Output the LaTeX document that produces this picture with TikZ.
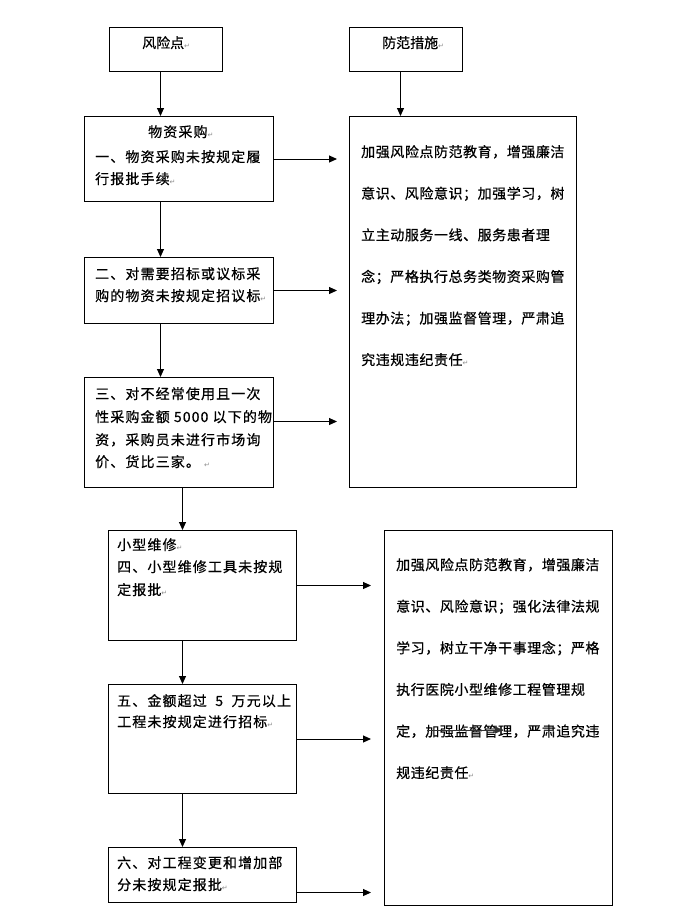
\documentclass[tikz,border=0pt]{standalone}
\usepackage{fontspec}
\newfontfamily\cjkL[LetterSpace=8,FakeBold=0.6]{Noto Sans CJK SC}
\newfontfamily\cjkR[LetterSpace=4,FakeBold=0.6]{Noto Sans CJK SC}
\newfontfamily\cjkH[FakeBold=0.6]{Noto Sans CJK SC}
\newfontfamily\symfont{DejaVu Sans}
\usetikzlibrary{arrows.meta}
\newcommand{\pmk}{{\symfont\fontsize{7}{7}\selectfont\color{black!45}↵}}
\tikzset{
  box/.style={draw, line width=1pt, inner sep=0pt, anchor=north west},
  ltxt/.style={anchor=base west, inner sep=0pt, font=\cjkL\fontsize{14}{16}\selectfont},
  rtxt/.style={anchor=base west, inner sep=0pt, font=\cjkR\fontsize{14}{16}\selectfont},
  htxt/.style={anchor=base west, inner sep=0pt, font=\cjkH\fontsize{14}{16}\selectfont},
  arr/.style={-{Triangle[length=8pt,width=7pt]}, line width=1pt},
}
\begin{document}
\begin{tikzpicture}[x=1pt,y=-1pt]
\useasboundingbox (0,0) rectangle (684,908);
% header boxes
\node[box, minimum width=113pt, minimum height=44pt] (hA) at (109,27) {};
\node[box, minimum width=113pt, minimum height=44pt] (hB) at (349,27) {};
\node[htxt] (hAt) at (142,48) {风险点\pmk};
\node[htxt] (hBt) at (382,48) {防范措施\pmk};
% left boxes
\node[box, minimum width=189pt, minimum height=85pt] (b1) at (84,116) {};
\node[box, minimum width=189pt, minimum height=66pt] (b2) at (84,257) {};
\node[box, minimum width=189pt, minimum height=110pt] (b3) at (84,377) {};
\node[box, minimum width=188pt, minimum height=110pt] (b4) at (108,530) {};
\node[box, minimum width=188pt, minimum height=109pt] (b5) at (108,684) {};
\node[box, minimum width=188pt, minimum height=55pt] (b6) at (108,847) {};
% right boxes
\node[box, minimum width=227pt, minimum height=371pt] (p1) at (349,116) {};
\node[box, minimum width=228pt, minimum height=375pt] (p2) at (384,530) {};
% left texts
\node[ltxt] (t1a) at (148,137) {物资采购\pmk};
\node[ltxt] (t1b) at (95,162) {一、物资采购未按规定履};
\node[ltxt] (t1c) at (95,184) {行报批手续\pmk};
\node[ltxt] (t2a) at (95,279) {二、对需要招标或议标采};
\node[ltxt] (t2b) at (95,301) {购的物资未按规定招议标\pmk};
\node[ltxt] (t3a) at (95,399) {三、对不经常使用且一次};
\node[ltxt] (t3b) at (95,422) {性采购金额 5000 以下的物};
\node[ltxt] (t3c) at (95,445) {资，采购员未进行市场询};
\node[ltxt] (t3d) at (95,467) {价、货比三家。 \pmk};
\node[ltxt] (t4a) at (117,550) {小型维修\pmk};
\node[ltxt] (t4b) at (117,572) {四、小型维修工具未按规};
\node[ltxt] (t4c) at (117,595) {定报批\pmk};
\node[ltxt] (t5a) at (117,706) {五、金额超过 \ 5 \ 万元以上};
\node[ltxt] (t5b) at (117,727) {工程未按规定进行招标\pmk};
\node[ltxt] (t6a) at (117,868) {六、对工程变更和增加部};
\node[ltxt] (t6b) at (117,890) {分未按规定报批\pmk};
% right texts
\node[rtxt] (r1a) at (361,157) {加强风险点防范教育，增强廉洁};
\node[rtxt] (r1b) at (361,198.6) {意识、风险意识；加强学习，树};
\node[rtxt] (r1c) at (361,240.2) {立主动服务一线、服务患者理};
\node[rtxt] (r1d) at (361,281.8) {念；严格执行总务类物资采购管};
\node[rtxt] (r1e) at (361,323.4) {理办法；加强监督管理，严肃追};
\node[rtxt] (r1f) at (361,365) {究违规违纪责任\pmk};
\node[rtxt] (r2a) at (396,570) {加强风险点防范教育，增强廉洁};
\node[rtxt] (r2b) at (396,611.6) {意识、风险意识；强化法律法规};
\node[rtxt] (r2c) at (396,653.2) {学习，树立干净干事理念；严格};
\node[rtxt] (r2d) at (396,694.8) {执行医院小型维修工程管理规};
\node[rtxt] (r2e) at (396,736.4) {定，加强监督管理，严肃追究违};
\node[rtxt] (r2f) at (396,778) {规违纪责任\pmk};
% vertical arrows
\draw[arr] ([xshift=-5.5pt]hA.south) -- ([xshift=-5.5pt]hA.south |- b1.north);
\draw[arr] ([xshift=-5.5pt]hB.south) -- ([xshift=-5.5pt]hB.south |- p1.north);
\draw[arr] ([xshift=-18.5pt]b1.south) -- ([xshift=-18.5pt]b1.south |- b2.north);
\draw[arr] ([xshift=-18.5pt]b2.south) -- ([xshift=-18.5pt]b2.south |- b3.north);
\draw[arr] ([xshift=3.5pt]b3.south) -- ([xshift=3.5pt]b3.south |- b4.north);
\draw[arr] ([xshift=-20pt]b4.south) -- ([xshift=-20pt]b4.south |- b5.north);
\draw[arr] ([xshift=-20pt]b5.south) -- ([xshift=-20pt]b5.south |- b6.north);
% horizontal arrows
\draw[arr] (b1.east) -- ([xshift=-12pt]b1.east -| p1.west);
\draw[arr] (b2.east) -- ([xshift=-12pt]b2.east -| p1.west);
\draw[arr] ([yshift=11pt]b3.east) -- ([xshift=-12pt,yshift=11pt]b3.east -| p1.west);
\draw[arr] (b4.east) -- ([xshift=-13pt]b4.east -| p2.west);
\draw[arr] (b5.east) -- ([xshift=-13pt]b5.east -| p2.west);
\draw[arr] ([yshift=-17.5pt]b6.east) -- ([xshift=-13pt,yshift=-17.5pt]b6.east -| p2.west);
% stray arrow over the text
\coordinate (s1) at (427,730);
\coordinate (s2) at (503,730);
\draw[arr, line width=0.8pt, black!80] (s1) -- (s2);
\end{tikzpicture}
\end{document}
